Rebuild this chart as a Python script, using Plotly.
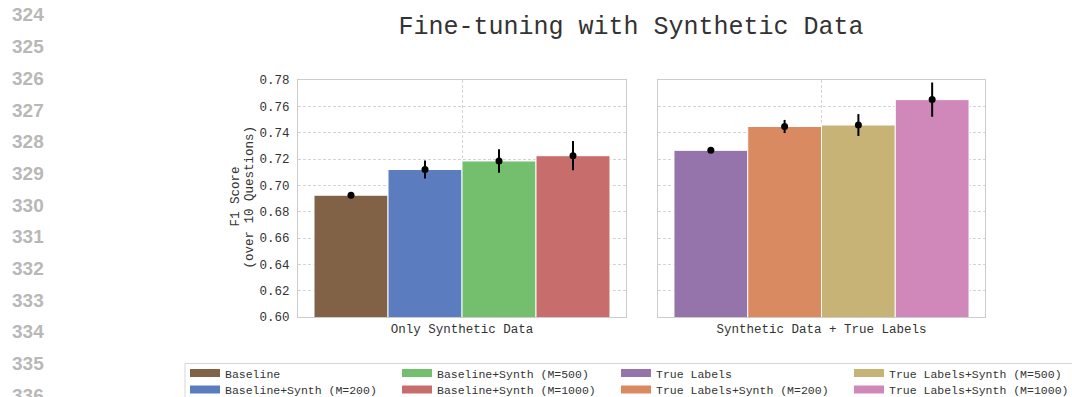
import plotly.graph_objects as go

# ---- data -------------------------------------------------------------
groups = ["Only Synthetic Data", "Synthetic Data + True Labels"]

series_left = ["Baseline", "Baseline+Synth (M=200)",
               "Baseline+Synth (M=500)", "Baseline+Synth (M=1000)"]
f1_left = [0.6925, 0.7120, 0.7185, 0.7225]
err_left = [0.0004, 0.0069, 0.0089, 0.0111]

series_right = ["True Labels", "True Labels+Synth (M=200)",
                "True Labels+Synth (M=500)", "True Labels+Synth (M=1000)"]
f1_right = [0.7266, 0.7447, 0.7458, 0.7651]
err_right = [0.0004, 0.0050, 0.0083, 0.0130]

colors_left = ["#816247", "#5B7DBF", "#74BF6E", "#C76E6C"]
colors_right = ["#9474AB", "#D98A60", "#C6B375", "#D088BB"]

y_ticks = [0.60, 0.62, 0.64, 0.66, 0.68, 0.70, 0.72, 0.74, 0.76, 0.78]
y_title_lines = ["F1 Score", "(over 10 Questions)"]
line_numbers = list(range(324, 337))

# ---- layout constants -------------------------------------------------
W, H = 1072, 397
MONO = "Courier New, Liberation Mono, monospace"
TXT = "#333333"
GRID = "#d4d4d4"
FRAME = "#cccccc"
BARGAP = 0.0976


def px_x(v):
    return v / W


def px_y(v):
    return 1 - v / H


fig = go.Figure()

panels = [
    ("x", "y", groups[0], series_left, f1_left, err_left, colors_left),
    ("x2", "y2", groups[1], series_right, f1_right, err_right, colors_right),
]

# bars + mean markers with error bars, grouped within each panel
for xa, ya, grp, names, vals, errs, cols in panels:
    for name, v, c in zip(names, vals, cols):
        fig.add_trace(go.Bar(
            x=[grp], y=[v], name=name, xaxis=xa, yaxis=ya,
            marker=dict(color=c, line=dict(color="white", width=1)),
            showlegend=False, hoverinfo="skip",
        ))
    for name, v, e in zip(names, vals, errs):
        fig.add_trace(go.Scatter(
            x=[grp], y=[v], name=name, xaxis=xa, yaxis=ya, mode="markers",
            marker=dict(color="black", size=7),
            error_y=dict(type="data", array=[e], thickness=2, width=0,
                         color="black"),
            showlegend=False,
        ))

# legend entries: two rows, filled column by column
all_names = series_left + series_right
all_colors = colors_left + colors_right
col_widths = [212, 219, 233, 220]
for k, (name, c) in enumerate(zip(all_names, all_colors)):
    col, row = k // 2, k % 2
    fig.add_trace(go.Scatter(
        x=[None], y=[None], name=name, mode="lines",
        line=dict(color=c, width=8),
        xaxis="x3", yaxis="y3",
        legend="legend" if row == 0 else "legend2",
        legendwidth=col_widths[col] - 45,
        legendrank=col,
    ))

axis_common = dict(
    showline=True, mirror=True, linecolor=FRAME, linewidth=1,
    showgrid=True, gridcolor=GRID, griddash="3px,2px", gridwidth=1,
    zeroline=False, ticks="",
)

legend_common = dict(
    orientation="h", xref="paper", yref="paper",
    x=px_x(185), xanchor="left", yanchor="middle",
    bgcolor="rgba(0,0,0,0)", borderwidth=0,
    font=dict(family=MONO, size=11.5, color=TXT),
    itemwidth=30, tracegroupgap=0,
)

fig.update_layout(
    width=W, height=H,
    margin=dict(l=0, r=0, t=0, b=0, autoexpand=False),
    paper_bgcolor="white", plot_bgcolor="white",
    barmode="group", bargap=BARGAP, bargroupgap=0,
    scattermode="group", scattergap=BARGAP,
    font=dict(family=MONO, color=TXT),
    title=dict(
        text="Fine-tuning with Synthetic Data",
        font=dict(family=MONO, size=25, color=TXT),
        xref="container", yref="container",
        x=px_x(631), y=px_y(25.5), xanchor="center", yanchor="middle",
    ),
    xaxis=dict(domain=[px_x(298), px_x(626)], anchor="y",
               range=[-0.5, 0.5], ticklabelstandoff=0,
               tickfont=dict(family=MONO, size=12.5, color=TXT),
               **axis_common),
    xaxis2=dict(domain=[px_x(658), px_x(985)], anchor="y2",
                range=[-0.5, 0.5], ticklabelstandoff=0,
                tickfont=dict(family=MONO, size=12.5, color=TXT),
                **axis_common),
    yaxis=dict(domain=[1 - 317 / H, 1 - 80 / H], anchor="x",
               range=[0.60, 0.78], tickvals=y_ticks, tickformat=".2f",
               ticklabelstandoff=5,
               tickfont=dict(family=MONO, size=12.5, color=TXT),
               **axis_common),
    yaxis2=dict(domain=[1 - 317 / H, 1 - 80 / H], anchor="x2",
                range=[0.60, 0.78], tickvals=y_ticks, matches="y",
                showticklabels=False, **axis_common),
    xaxis3=dict(domain=[0, 0.001], anchor="y3", visible=False),
    yaxis3=dict(domain=[0, 0.001], anchor="x3", visible=False),
    legend=dict(y=px_y(373), **legend_common),
    legend2=dict(y=px_y(389.5), **legend_common),
    showlegend=True,
)

# y-axis title, one rotated line per row
for xpos, line in zip([235.5, 249.5], y_title_lines):
    fig.add_annotation(
        text=line, xref="paper", yref="paper",
        x=px_x(xpos), y=px_y(197), textangle=-90,
        xanchor="center", yanchor="middle", showarrow=False,
        font=dict(family=MONO, size=12.5, color=TXT),
    )

# legend frame (runs off the right edge of the page)
fig.add_shape(type="rect", xref="paper", yref="paper",
              x0=px_x(185), x1=px_x(1090), y0=px_y(405), y1=px_y(363.5),
              line=dict(color="#d6d6d6", width=1), fillcolor="white",
              layer="below")

# page line numbers down the left margin
for i, n in enumerate(line_numbers):
    fig.add_annotation(
        text="<b>%d</b>" % n, xref="paper", yref="paper",
        x=px_x(27.5), y=px_y(15 + 31.67 * i),
        xanchor="center", yanchor="middle", showarrow=False,
        font=dict(family="Liberation Sans, Arial, sans-serif", size=19,
                  color="#b8b8b8"),
    )

fig.write_html("out.html")
